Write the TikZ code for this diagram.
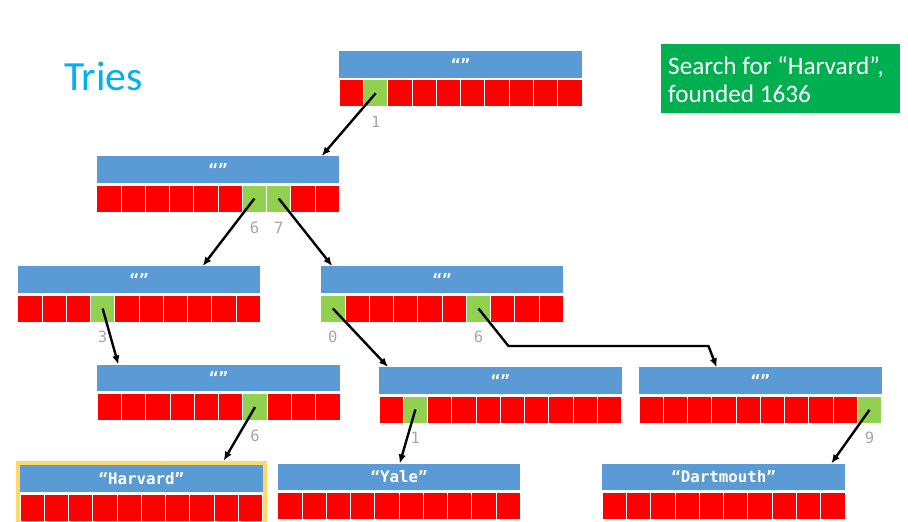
\documentclass[tikz,border=0pt]{standalone}
\usepackage{fontspec}
\setmainfont{Carlito}
\newfontfamily\monofont{DejaVu Sans Mono}
\usetikzlibrary{calc,fit,arrows.meta}
\definecolor{cblue}{HTML}{5B9BD5}
\definecolor{cred}{HTML}{FF0000}
\definecolor{cgreen}{HTML}{92D050}
\definecolor{cbox}{HTML}{00B050}
\definecolor{cgold}{HTML}{FFD966}
\definecolor{ctitle}{HTML}{00B0F0}
\definecolor{clbl}{HTML}{A6A6A6}
\tikzset{
  hdr/.style={fill=cblue,text=white,minimum width=242.7pt,minimum height=26.8pt,inner sep=0pt,outer sep=0pt,font=\monofont\bfseries\fontsize{15.8}{17}\selectfont},
  cellbox/.style={draw=white,line width=0.9pt,minimum width=24.27pt,minimum height=27pt,inner sep=0pt,outer sep=0pt},
  lbl/.style={text=clbl,font=\monofont\fontsize{15.5}{16}\selectfont,inner sep=0pt},
  arr/.style={line width=2.4pt,-{Latex[length=9pt,width=7.5pt]}},
}
\newcommand{\trienode}[5]{%
  \node[hdr,anchor=north west] (#1) at (#2,#3) {#4};
  \foreach \i in {0,...,9}{%
    \gdef\cellcol{cred}%
    \foreach \g in {#5}{\ifnum\g=\i\relax\gdef\cellcol{cgreen}\fi}%
    \node[cellbox,fill=\cellcol,anchor=north west] (#1-\i) at ($(#2,#3)+(\i*24.27,29)$) {};
  }%
}
\begin{document}
\begin{tikzpicture}[x=1pt,y=-1pt]
\useasboundingbox (0,0) rectangle (908,522);
% title
\node[anchor=base west,text=ctitle,font=\fontsize{41.5}{44}\selectfont,inner sep=0pt] (title) at (64,90) {Tries};
% green box
\node[anchor=north west,fill=cbox,minimum width=239pt,minimum height=68.3pt,inner sep=0pt] (info) at (661,44) {};
\node[anchor=west,text=white,align=left,inner sep=0pt,font=\fontsize{25.2}{28}\selectfont] (infotext) at ([xshift=7pt,yshift=-1pt]info.west) {Search for “Harvard”,\\founded 1636};
% nodes
\trienode{R}{339.3}{50.7}{“”}{1}
\trienode{A}{96.7}{156}{“”}{6,7}
\trienode{B}{17.7}{266}{“”}{3}
\trienode{C}{320.7}{266}{“”}{0,6}
\trienode{D}{97.3}{364.5}{“”}{6}
\trienode{E}{379}{367}{“”}{1}
\trienode{F}{639}{367.3}{“”}{9}
\trienode{H}{20}{465}{“Harvard”}{-1}
\trienode{Y}{277.7}{463.5}{“Yale”}{-1}
\trienode{M}{602.3}{463.5}{“Dartmouth”}{-1}
\node[fit=(H)(H-0)(H-9),draw=cgold,line width=4.3pt,inner sep=2.15pt] (Hb) {};
% labels
\node[lbl] (lR1) at ([yshift=-15pt]R-1.south) {1};
\node[lbl] (lA6) at ([yshift=-15.5pt]A-6.south) {6};
\node[lbl] (lA7) at ([yshift=-15.5pt]A-7.south) {7};
\node[lbl] (lB3) at ([yshift=-15pt]B-3.south) {3};
\node[lbl] (lC0) at ([yshift=-15pt]C-0.south) {0};
\node[lbl] (lC6) at ([yshift=-15pt]C-6.south) {6};
\node[lbl] (lD6) at ([yshift=-15pt]D-6.south) {6};
\node[lbl] (lE1) at ([yshift=-15pt]E-1.south) {1};
\node[lbl] (lF9) at ([yshift=-15pt]F-9.south) {9};
% arrows
\draw[arr] (R-1.center) -- ([xshift=225pt]A.north west);
\draw[arr] (A-6.center) -- ([xshift=185pt]B.north west);
\draw[arr] (A-7.center) -- ([xshift=11.5pt]C.north west);
\draw[arr] (B-3.center) -- ([xshift=21pt]D.north west);
\draw[arr] (C-0.center) -- ([xshift=9pt]E.north west);
\draw[arr] (C-6.center) -- ++(30,37.5) -- ++(200,0) -- ([xshift=77.7pt]F.north west);
\draw[arr] (D-6.center) -- ([xshift=208pt]Hb.north west);
\draw[arr] (E-1.center) -- ([xshift=122pt]Y.north west);
\draw[arr] (F-9.center) -- ([xshift=229pt]M.north west);
\end{tikzpicture}
\end{document}
